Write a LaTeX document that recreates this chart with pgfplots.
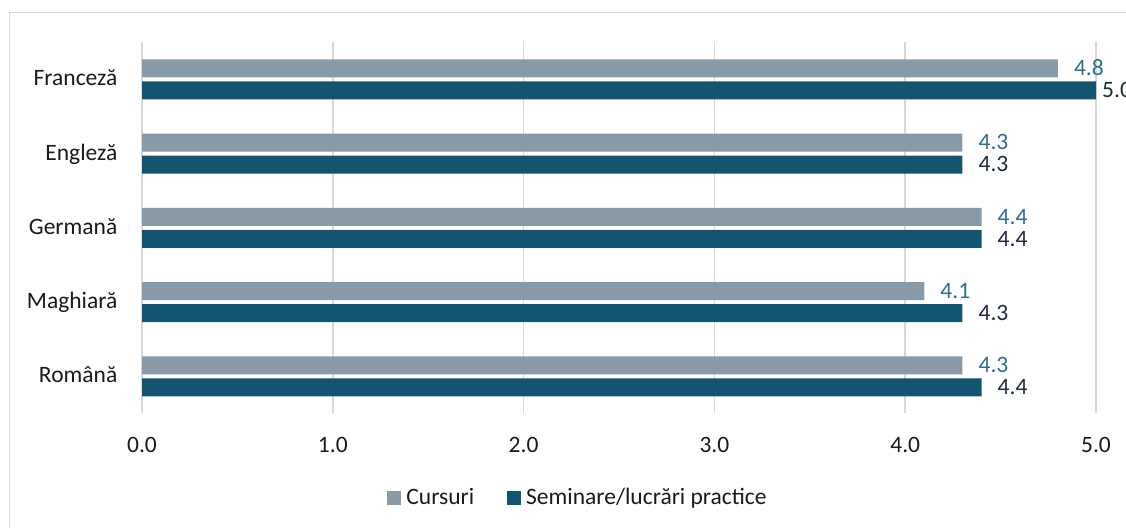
\documentclass[border=0pt]{standalone}
\usepackage{fontspec}
\setmainfont{Carlito}
\usepackage{pgfplots}
\pgfplotsset{compat=1.18}
\definecolor{cgray}{HTML}{8899A8}
\definecolor{cdark}{HTML}{135570}
\definecolor{lblue}{HTML}{2E6E8E}
\definecolor{ldark}{HTML}{1E2C40}
\definecolor{gridc}{HTML}{D9D9D9}
\definecolor{txt}{HTML}{1A1A1A}
\begin{document}
\fontsize{23.5bp}{28bp}\selectfont
\begin{tikzpicture}[x=1bp,y=1bp]
\useasboundingbox (0,0) rectangle (1126,528);
\draw[gridc, line width=1bp] (9,-5) -- (9,515) -- (1140,515);
\begin{axis}[at={(142bp,114.6bp)}, anchor=south west, scale only axis,
  width=954bp, height=371.1bp,
  xbar, bar width=18bp,
  xmin=0, xmax=5, ymin=-0.5, ymax=4.5,
  xtick={0,1,2,3,4,5}, xticklabels={0.0,1.0,2.0,3.0,4.0,5.0},
  ytick={0,1,2,3,4}, yticklabels={Română,Maghiară,Germană,Engleză,Franceză},
  axis line style={draw=none}, major tick length=0pt,
  xmajorgrids, ymajorgrids=false, grid style={gridc, line width=1.5bp},
  xticklabel style={anchor=north, inner sep=0pt, yshift=-23.5bp, text=txt},
  yticklabel style={anchor=base east, inner sep=0pt, xshift=-24.5bp, yshift=-6.5bp, text=txt},
  clip=false,
  legend columns=2,
  legend style={at={(0.456,-0.228)}, anchor=center, draw=none, fill=none,
    inner sep=0pt, nodes={inner sep=0pt, text=txt}, cells={anchor=west},
    /tikz/every odd column/.append style={column sep=5bp},
    /tikz/every even column/.append style={column sep=33bp}},
]
\addplot[fill=cgray, draw=none, bar shift=11bp,
  point meta=explicit symbolic, nodes near coords,
  nodes near coords style={text=lblue, anchor=base west, inner sep=0pt, xshift=16bp, yshift=-7.3bp},
  legend image code/.code={\fill[cgray] (0bp,-7bp) rectangle (14bp,7bp);}]
  coordinates {(4.3,0)[4.3] (4.1,1)[4.1] (4.4,2)[4.4] (4.3,3)[4.3] (4.8,4)[4.8]};
\addlegendentry{Cursuri}
\addplot[fill=cdark, draw=none, bar shift=-11bp,
  point meta=explicit symbolic, nodes near coords,
  visualization depends on={rawx \as \rawxval},
  nodes near coords style={text=ldark, anchor=base west, inner sep=0pt,
    xshift={(\rawxval>4.9 ? 6 : 16)*1bp}, yshift=-7.3bp},
  legend image code/.code={\fill[cdark] (0bp,-7bp) rectangle (14bp,7bp);}]
  coordinates {(4.4,0)[4.4] (4.3,1)[4.3] (4.4,2)[4.4] (4.3,3)[4.3] (5.0,4)[5.0]};
\addlegendentry{Seminare/lucrări practice}
\end{axis}
\end{tikzpicture}
\end{document}
